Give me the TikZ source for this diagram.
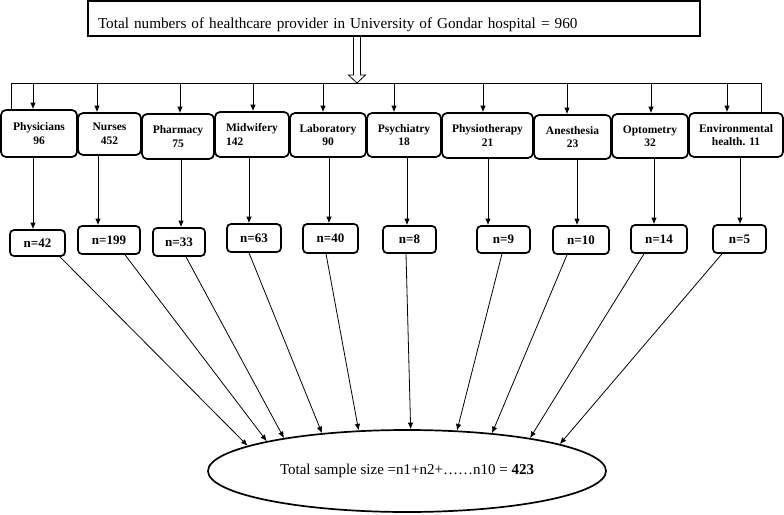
\documentclass[tikz,border=0pt]{standalone}
\usepackage{fontspec}
\setmainfont{Liberation Serif}
\usetikzlibrary{arrows.meta}
\usetikzlibrary{shapes}

\begin{document}
\begin{tikzpicture}
	[x=1pt, y=-1pt,
	>={Latex[length=6.5pt, width=5.5pt]}]

\useasboundingbox (0,0) rectangle (784,514);

\def\BorderWidth{1.7pt}
\def\LinkWidth{0.8pt}

% Styles
\tikzstyle{group} =
	[draw, line width=\BorderWidth, rounded corners=5pt, inner sep=1pt,
	font=\fontsize{11.5}{13.5}\selectfont\bfseries]

\tikzstyle{size} =
	[draw, line width=\BorderWidth, rounded corners=4pt, inner sep=1pt,
	font=\fontsize{13}{15}\selectfont\bfseries]

\tikzstyle{link} =
	[->, line width=\LinkWidth]

% Modules

\node (Total) at (394,18.5)
	[draw, line width=\BorderWidth, minimum width=612, minimum height=35,
	inner xsep=10pt, inner ysep=8pt, text width=592, text height=19pt, text depth=0pt,
	align=left, font=\fontsize{15.2}{18}\selectfont]
	{Total numbers of healthcare provider in University of Gondar hospital = 960};

\coordinate (Bus) at (0,83);

\foreach \Name/\Left/\Right/\Top/\Bottom/\Align/\Text in {
	Physicians/1/77/110/157/center/{Physicians\\96},
	Nurses/78/141/113/155/center/{Nurses\\452},
	Pharmacy/142/214/114/159/center/{Pharmacy\\75},
	Midwifery/215/289/112/157/left/{Midwifery\\142},
	Laboratory/290/366/113/157/center/{Laboratory\\90},
	Psychiatry/367/441/113/157/center/{Psychiatry\\18},
	Physiotherapy/442/533/113/158/center/{Physiotherapy\\21},
	Anesthesia/534/611/115/159/center/{Anesthesia\\23},
	Optometry/612/688/114/158/center/{Optometry\\32},
	Environmental/689/783/113/157/center/{Environmental\\health. 11}}
	\node (\Name) at ({(\Left+\Right)/2}, {(\Top+\Bottom)/2})
		[group, align=\Align, minimum width=\Right-\Left, minimum height=\Bottom-\Top]
		{\Text};

\foreach \Name/\Left/\Right/\Top/\Bottom/\Count in {
	Physicians/10/65/230/256/42,
	Nurses/78/140/226/254/199,
	Pharmacy/153/205/228/256/33,
	Midwifery/227/281/224/252/63,
	Laboratory/303/358/224/253/40,
	Psychiatry/383/436/226/253/8,
	Physiotherapy/477/530/226/253/9,
	Anesthesia/553/609/226/254/10,
	Optometry/631/687/225/253/14,
	Environmental/713/766/225/253/5}
	\node (N\Name) at ({(\Left+\Right)/2}, {(\Top+\Bottom)/2})
		[size, minimum width=\Right-\Left, minimum height=\Bottom-\Top]
		{n=\Count};

\node (Sample) at (407,471)
	[ellipse, draw, line width=\BorderWidth, minimum width=398, minimum height=82,
	inner sep=0pt, font=\fontsize{15}{18}\selectfont]
	{Total sample size =n1+n2+……n10 = \textbf{423}};

% Edges

\draw[line width=\LinkWidth]
	(353.5,0 |- Total.south) -- (353.5,75) -- (348.5,75)
	-- (357,0 |- Bus) -- (365.5,75) -- (360.5,75) -- (360.5,0 |- Total.south);

\draw[line width=\LinkWidth]
	(11,0 |- Physicians.north) -- (11,0 |- Bus)
	-- (761,0 |- Bus) -- (761,0 |- Environmental.north);

\foreach \Name/\BusX/\DownX/\OutX/\Angle in {
	Physicians/33/33/60/171.8,
	Nurses/97/98/125/168.7,
	Pharmacy/180/181/186/165.1,
	Midwifery/253/249/249/156.0,
	Laboratory/323/329/326/140.9,
	Psychiatry/394/407/406/85.7,
	Physiotherapy/483/488/502/39.1,
	Anesthesia/567/577/567/24.0,
	Optometry/651/654/644/15.05,
	Environmental/727/740/722/10.5}
{
	\draw[link] (\BusX,0 |- Bus) -- (\BusX,0 |- \Name.north);
	\draw[link] (\DownX,0 |- \Name.south) -- (\DownX,0 |- N\Name.north);
	\draw[link] (\OutX,0 |- N\Name.south) -- (Sample.\Angle);
}

\end{tikzpicture}
\end{document}
